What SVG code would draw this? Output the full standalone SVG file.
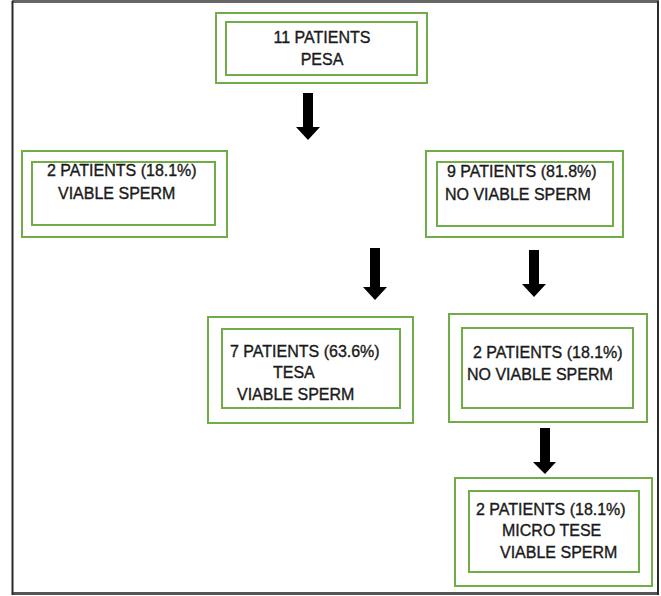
<svg xmlns="http://www.w3.org/2000/svg" width="661" height="596" viewBox="0 0 661 596">
<style>
.box{fill:none;stroke:#70ad47;stroke-width:2}
.t{font-family:"Liberation Sans",Arial,sans-serif;font-size:16px;fill:#1a1a1a;stroke:#1a1a1a;stroke-width:0.35}
.arrow{fill:#000}
</style>
<rect x="0" y="0" width="661" height="596" fill="#fff"/>
<g id="frame">
<line x1="12" y1="1.5" x2="659" y2="1.5" stroke="#666" stroke-width="3"/>
<line x1="12" y1="593.5" x2="659" y2="593.5" stroke="#555" stroke-width="3"/>
<line x1="12.5" y1="1" x2="12.5" y2="595" stroke="#2a2a2a" stroke-width="2"/>
<line x1="658" y1="1" x2="658" y2="595" stroke="#2a2a2a" stroke-width="2"/>
</g>
<g id="connectors">
<polygon class="arrow" points="303,93 313,93 313,127 320,127 308,140 296,127 303,127"/>
<polygon class="arrow" points="370,248 380,248 380,287 387,287 375,300 363,287 370,287"/>
<polygon class="arrow" points="529,250 539,250 539,284 546,284 534,297 522,284 529,284"/>
<polygon class="arrow" points="540,428 550,428 550,462 556,462 545,474 533,462 540,462"/>
</g>
<g id="n1">
<rect class="box" x="216" y="13" width="211" height="70"/>
<rect class="box" x="226" y="22" width="191" height="53"/>
<text class="t" x="322" y="43" text-anchor="middle">11 PATIENTS</text>
<text class="t" x="322" y="65" text-anchor="middle">PESA</text>
</g>
<g id="n2">
<rect class="box" x="22" y="151" width="205" height="86"/>
<rect class="box" x="32" y="162" width="183" height="63"/>
<text class="t" x="47" y="176">2 PATIENTS (18.1%)</text>
<text class="t" x="58" y="199">VIABLE SPERM</text>
</g>
<g id="n3">
<rect class="box" x="426" y="151" width="197" height="86"/>
<rect class="box" x="437" y="162" width="176" height="64"/>
<text class="t" x="447" y="177">9 PATIENTS (81.8%)</text>
<text class="t" x="445" y="200">NO VIABLE SPERM</text>
</g>
<g id="n4">
<rect class="box" x="208" y="317" width="205" height="106"/>
<rect class="box" x="222" y="329" width="178" height="79"/>
<text class="t" x="230" y="357">7 PATIENTS (63.6%)</text>
<text class="t" x="273" y="378">TESA</text>
<text class="t" x="237" y="400">VIABLE SPERM</text>
</g>
<g id="n5">
<rect class="box" x="449" y="314" width="198" height="108"/>
<rect class="box" x="462" y="328" width="171" height="80"/>
<text class="t" x="473" y="358">2 PATIENTS (18.1%)</text>
<text class="t" x="467" y="380">NO VIABLE SPERM</text>
</g>
<g id="n6">
<rect class="box" x="455" y="478" width="197" height="108"/>
<rect class="box" x="469" y="491" width="170" height="81"/>
<text class="t" x="476" y="515">2 PATIENTS (18.1%)</text>
<text class="t" x="502" y="536">MICRO TESE</text>
<text class="t" x="500" y="558">VIABLE SPERM</text>
</g>
</svg>
